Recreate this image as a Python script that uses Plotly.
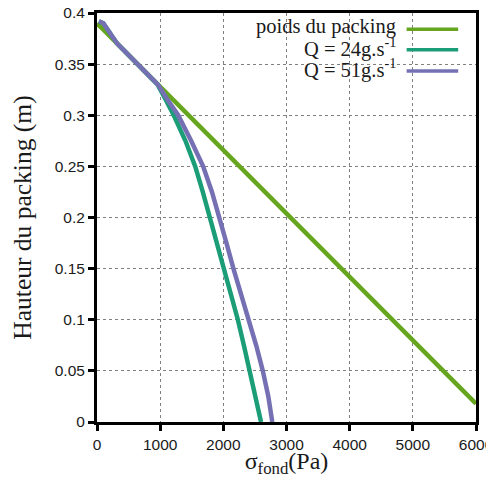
import plotly.graph_objects as go

# Data
poids_x = [0, 6000]
poids_y = [0.39, 0.018]

heights = [0.392, 0.39, 0.37, 0.35, 0.33, 0.315, 0.3, 0.275, 0.25, 0.225,
           0.2, 0.175, 0.15, 0.125, 0.1, 0.075, 0.05, 0.025, 0.0]
q24_x = [30, 100, 320, 640, 960, 1090, 1215, 1400, 1555, 1675,
         1788, 1895, 2000, 2115, 2230, 2325, 2420, 2510, 2597]
q51_x = [30, 100, 320, 640, 965, 1120, 1285, 1490, 1680, 1820,
         1942, 2050, 2160, 2285, 2410, 2520, 2625, 2712, 2775]

legend_names = ["poids du packing", "Q = 24g.s<sup>-1</sup>", "Q = 51g.s<sup>-1</sup>"]
colors = ["#66a61e", "#1b9e77", "#7570b3"]

x_ticks = [0, 1000, 2000, 3000, 4000, 5000, 6000]
y_ticks = [0, 0.05, 0.1, 0.15, 0.2, 0.25, 0.3, 0.35, 0.4]
y_tick_text = ["0", "0.05", "0.1", "0.15", "0.2", "0.25", "0.3", "0.35", "0.4"]

fig = go.Figure()
series = [(poids_x, poids_y), (q24_x, heights), (q51_x, heights)]
for (xs, ys), name, col in zip(series, legend_names, colors):
    fig.add_trace(go.Scatter(x=xs, y=ys, mode="lines", name=name,
                             line=dict(color=col, width=4.5), showlegend=False))

# Manual legend (text right-aligned, sample line on the right, gnuplot style)
leg_y = [0.966, 0.916, 0.864]
for name, col, yy in zip(legend_names, colors, leg_y):
    fig.add_annotation(xref="paper", yref="paper", x=0.795, y=yy, text=name,
                       showarrow=False, xanchor="right", yanchor="middle",
                       font=dict(family="Liberation Serif", size=20.5, color="#1a1a1a"))
    fig.add_shape(type="line", xref="paper", yref="paper",
                  x0=0.817, x1=0.953, y0=yy - 0.006, y1=yy - 0.006,
                  line=dict(color=col, width=3.5))

axis_common = dict(showline=True, linecolor="black", linewidth=3, mirror=True,
                   ticks="outside", tickcolor="black", tickwidth=3, ticklen=6,
                   showgrid=True, gridcolor="#808080", griddash="dot", gridwidth=1,
                   zeroline=False, automargin=False, ticklabeloverflow="allow",
                   tickfont=dict(family="Liberation Sans", size=15.5, color="#1a1a1a"))

fig.update_xaxes(range=[0, 6000], tickvals=x_ticks,
                 title=dict(text="σ<sub>fond</sub>(Pa)", standoff=2,
                            font=dict(family="Liberation Serif", size=24, color="#1a1a1a")),
                 **axis_common)
fig.update_yaxes(range=[0, 0.4], tickvals=y_ticks, ticktext=y_tick_text,
                 title=dict(text="Hauteur du packing (m)", standoff=19,
                            font=dict(family="Liberation Serif", size=25.5, color="#1a1a1a")),
                 **axis_common)

# The page body has an 8px default margin: size the figure so the plot area
# lands where the reference has it.
fig.update_layout(width=486, height=470,
                  margin=dict(l=89, r=18, t=5, b=56),
                  plot_bgcolor="white", paper_bgcolor="white",
                  showlegend=False)

fig.write_html("out.html")
